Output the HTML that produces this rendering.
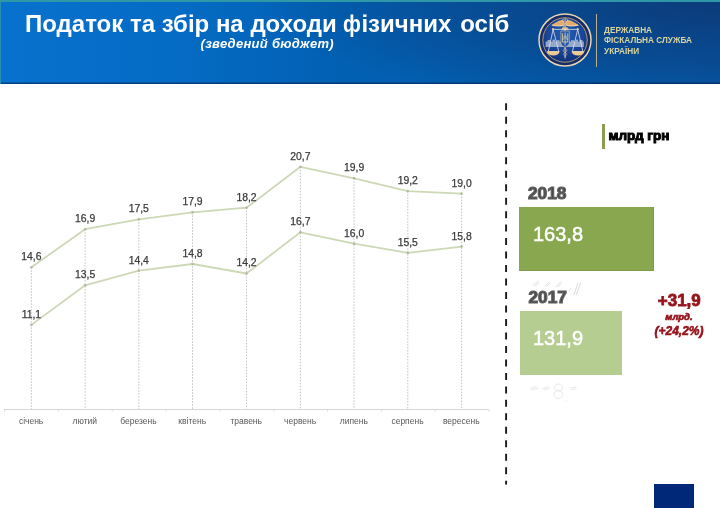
<!DOCTYPE html>
<html lang="uk">
<head>
<meta charset="utf-8">
<title>Податок та збір на доходи фізичних осіб</title>
<style>
html,body{margin:0;padding:0;}
body{width:720px;height:508px;position:relative;overflow:hidden;background:#fff;font-family:"Liberation Sans",sans-serif;}
.abs{position:absolute;white-space:nowrap;line-height:1;}
#hdr{position:absolute;left:0;top:0;width:720px;height:83.5px;
 background:
  linear-gradient(180deg, rgba(0,20,60,0) 0, rgba(0,20,60,0) 79.5px, rgba(0,25,70,0.55) 81.5px),
  radial-gradient(ellipse 460px 110px at 100% 0%, rgba(16,40,92,0.62), rgba(16,40,92,0.3) 55%, rgba(16,40,92,0) 100%),
  linear-gradient(90deg,#0772ce 0%,#056bc4 25%,#0261b4 45%,#035dae 70%,#055aaa 100%);
 border-top:2px solid #2f98a8;box-sizing:border-box;}
#hdr:before{content:"";position:absolute;left:0;top:0;width:1px;height:82px;background:#2a8fb0;}
#title{left:25px;top:12.3px;font-size:24px;font-weight:bold;color:#fff;}
#sub{left:200.5px;top:37px;font-size:13px;font-weight:bold;font-style:italic;color:#fff;letter-spacing:0.3px;}
#org{left:604px;top:24.6px;font-size:9.6px;font-weight:bold;color:#d8d3a0;line-height:10.6px;white-space:nowrap;transform-origin:0 0;transform:scaleX(0.86);}
#vline{position:absolute;left:596px;top:14px;width:1px;height:53px;background:#bfae8a;}
.dl{font-size:10.4px;color:#3a3a3a;stroke:#3a3a3a;stroke-width:0.25px;text-anchor:middle;font-family:"Liberation Sans",sans-serif;}
.ml{font-size:8.5px;fill:#595959;text-anchor:middle;font-family:"Liberation Sans",sans-serif;}
#mlrd{left:608.5px;top:128.8px;font-size:13.5px;font-weight:bold;color:#000;-webkit-text-stroke:1px #000;}
#lbar{position:absolute;left:602.3px;top:123.7px;width:3.2px;height:25px;background:#8c9c50;}
.yr{font-size:17.3px;font-weight:bold;color:#484848;-webkit-text-stroke:1.2px #606060;}
#b18{position:absolute;left:519px;top:207.3px;width:135.3px;height:64px;background:#89a74f;box-shadow:inset -1px -1px 0 rgba(0,0,0,0.07);}
#b17{position:absolute;left:519.6px;top:310.8px;width:102.4px;height:64px;background:#b6cd92;}
.bv{font-size:20px;color:#fff;-webkit-text-stroke:0.5px #fff;}
.red{color:#96141c;font-weight:bold;text-align:center;}
#corner{position:absolute;left:654px;top:484px;width:40px;height:24px;background:#002878;}
</style>
</head>
<body>
<div id="hdr"></div>
<div id="title" class="abs">Податок та збір на доходи <span style="display:inline-block;transform:scaleX(0.85);transform-origin:0 50%;margin-right:-3px">ф</span>ізичних<span style="margin-left:2.2px"> осіб</span></div>
<div id="sub" class="abs">(зведений бюджет)</div>

<svg class="abs" style="left:536.5px;top:12.4px" width="56" height="56" viewBox="0 0 56 56">
 <defs>
  <radialGradient id="lg" cx="50%" cy="35%" r="65%">
   <stop offset="0" stop-color="#2360b2"/><stop offset="0.6" stop-color="#19479a"/><stop offset="1" stop-color="#0f3079"/>
  </radialGradient>
 </defs>
 <circle cx="28" cy="28" r="26" fill="#152c68" stroke="#e6d4b2" stroke-width="1.5"/>
 <circle cx="28" cy="28" r="22.2" fill="url(#lg)" stroke="#c3a273" stroke-width="0.9"/>
 <g fill="#b9c3d9" opacity="0.8">
  <rect x="8.6" y="29.6" width="38.2" height="5.4"/>
  <rect x="10.500000" y="28" width="3" height="2"/><rect x="15.500000" y="27.600000" width="2.500000" height="2.400000"/><rect x="19.500000" y="28.200000" width="3" height="1.800000"/>
  <rect x="34" y="28.200000" width="3" height="1.800000"/><rect x="38.500000" y="27.600000" width="2.500000" height="2.400000"/><rect x="42.500000" y="28" width="3" height="2"/>
 </g>
 <path d="M10.5 30v5M12.500000 30v5M14.500000 30v5M16.500000 30v5M18.500000 30v5M20.500000 30v5M22.500000 30v5M34 30v5M36 30v5M38 30v5M40 30v5M42 30v5M44 30v5M45.800000 30v5" stroke="#8b9cc4" stroke-width="0.5" fill="none"/>
 <g fill="#eab273">
  <path d="M14.1 13.2C17.5 11.4 21 8.6 25 8C26.2 8 27 8.600000 27.300000 9.600000L27.300000 13.400000C23 14.700000 18 14.500000 14.100000 13.200000Z"/>
  <path d="M42.100000 13.200000C38.700000 11.400000 35.200000 8.600000 31.200000 8C30 8 29.200000 8.600000 28.900000 9.600000L28.900000 13.400000C33.200000 14.700000 38.200000 14.500000 42.100000 13.200000Z"/>
 </g>
 <g stroke="#f6e6c8" fill="none" stroke-linecap="round" stroke-width="0.7">
  <path d="M15.5 13.3C19 14.1 23.5 14.100000 27 13.100000M40.700000 13.300000C37.200000 14.100000 32.700000 14.100000 29.200000 13.100000"/>
 </g>
 <g stroke="#c98f58" fill="none" stroke-width="0.35">
  <path d="M18 12.600000C21 11.400000 23.500000 10.400000 26.500000 10.200000M20.500000 13.400000C22.500000 12.600000 24.500000 12 26.800000 11.800000M38.200000 12.600000C35.200000 11.400000 32.700000 10.400000 29.700000 10.200000M35.700000 13.400000C33.700000 12.600000 31.700000 12 29.400000 11.800000"/>
 </g>
 <ellipse cx="28.1" cy="16.6" rx="3.2" ry="1.5" fill="#e2b57a"/>
 <g stroke="#e4c79c" fill="none" stroke-linecap="round">
  <path d="M28.1 6.5V46" stroke-width="1"/>
  <path d="M26.2 7.2c-1.600000 1.800000 0.600000 3.400000 1.900000 4.800000M30 7.200000c1.600000 1.800000 -0.600000 3.400000 -1.900000 4.800000" stroke-width="0.9"/>
  <path d="M28.100000 13.500000c-3 1.400000 -3 2.800000 0 4.200000" stroke-width="0.700000"/>
  <path d="M28.100000 36.500000c-2.600000 1.300000 -2.600000 2.700000 0 4c2.200000 1.200000 2.200000 2.400000 0 3.600000M28.100000 36.500000c2.600000 1.300000 2.600000 2.700000 0 4c-2.200000 1.200000 -2.200000 2.400000 0 3.600000" stroke-width="0.600000"/>
 </g>
 <g stroke="#dde3ee" stroke-width="0.8" fill="none" stroke-linejoin="round">
  <path d="M15.3 17.4H41.4"/>
  <path d="M16.1 17.4L11.4 39.200000M16.100000 17.400000L21.700000 39.200000"/>
  <path d="M40.700000 17.400000L35.500000 39.200000M40.700000 17.400000L45.800000 39.200000"/>
 </g>
 <g fill="#eec88c">
  <path d="M9.9 39.3H22.700000C22.200000 42.300000 19.700000 43.500000 16.300000 43.500000C12.900000 43.500000 10.400000 42.300000 9.900000 39.300000Z"/>
  <path d="M34.500000 39.300000H47.300000C46.800000 42.300000 44.300000 43.500000 40.900000 43.500000C37.500000 43.500000 35 42.300000 34.500000 39.300000Z"/>
  <circle cx="16.100000" cy="17.200000" r="1.100000"/><circle cx="40.700000" cy="17.200000" r="1.100000"/>
 </g>
 <path d="M10.500000 39.700000H22M35.100000 39.700000H46.600000" stroke="#fbeccd" stroke-width="0.700000" fill="none"/>
 <path d="M23.900000 19H32.300000V31C32.300000 33.200000 30.200000 34.300000 28.100000 35.400000C26 34.300000 23.900000 33.200000 23.900000 31Z" fill="#2459ae" stroke="#dcc79e" stroke-width="0.600000"/>
 <path d="M25.400000 21.200000V30H30.800000V21.200000M28.100000 20.400000V33.400000M25.400000 27.600000C26.900000 27.600000 27.300000 25.800000 27.200000 23.600000M30.800000 27.600000C29.300000 27.600000 28.900000 25.800000 29 23.600000" fill="none" stroke="#ecd7a6" stroke-width="0.800000"/>
</svg>
<div id="vline"></div>
<div id="org" class="abs">ДЕРЖАВНА<br>ФІСКАЛЬНА СЛУЖБА<br>УКРАЇНИ</div>

<svg class="abs" style="left:0;top:90px" width="500" height="350" viewBox="0 90 500 350">
 <g stroke="#c2c2c2" stroke-width="1" stroke-dasharray="1.5 1.5" fill="none">
  <line x1="31.4" y1="267.3" x2="31.4" y2="409"/>
  <line x1="85.1" y1="229.2" x2="85.1" y2="409"/>
  <line x1="138.8" y1="219.3" x2="138.8" y2="409"/>
  <line x1="192.5" y1="212.3" x2="192.5" y2="409"/>
  <line x1="246.5" y1="207.7" x2="246.5" y2="409"/>
  <line x1="300.4" y1="166.8" x2="300.4" y2="409"/>
  <line x1="354.1" y1="178.3" x2="354.1" y2="409"/>
  <line x1="407.8" y1="191.1" x2="407.8" y2="409"/>
  <line x1="461.6" y1="193.6" x2="461.6" y2="409"/>
 </g>
 <line x1="4" y1="409.5" x2="489" y2="409.5" stroke="#d6d6d6" stroke-width="1"/>
 <path d="M4.5 410v2M58.4 410v2M112.2 410v2M166.1 410v2M219.9 410v2M273.8 410v2M327.6 410v2M381.4 410v2M435.3 410v2M489.2 410v2" stroke="#e2e2e2" stroke-width="1" fill="none"/>
 <polyline fill="none" stroke="#cdd8b6" stroke-width="1.8" stroke-linejoin="round" points="31.4,267.3 85.1,229.2 138.8,219.3 192.5,212.3 246.5,207.7 300.4,166.8 354.1,178.3 407.8,191.1 461.6,193.6"/>
 <polyline fill="none" stroke="#cdd8b6" stroke-width="1.8" stroke-linejoin="round" points="31.4,324.9 85.1,285.3 138.8,270.6 192.5,264.0 246.5,273.5 300.4,232.3 354.1,243.7 407.8,252.8 461.6,246.6"/>
 <g fill="#b2baa0">
  <circle cx="31.4" cy="267.3" r="1.3"/><circle cx="85.1" cy="229.2" r="1.3"/><circle cx="138.8" cy="219.3" r="1.3"/><circle cx="192.5" cy="212.3" r="1.3"/><circle cx="246.5" cy="207.7" r="1.3"/><circle cx="300.4" cy="166.8" r="1.3"/><circle cx="354.1" cy="178.3" r="1.3"/><circle cx="407.8" cy="191.1" r="1.3"/><circle cx="461.6" cy="193.6" r="1.3"/>
  <circle cx="31.4" cy="324.9" r="1.3"/><circle cx="85.1" cy="285.3" r="1.3"/><circle cx="138.8" cy="270.6" r="1.3"/><circle cx="192.5" cy="264.0" r="1.3"/><circle cx="246.5" cy="273.5" r="1.3"/><circle cx="300.4" cy="232.3" r="1.3"/><circle cx="354.1" cy="243.7" r="1.3"/><circle cx="407.8" cy="252.8" r="1.3"/><circle cx="461.6" cy="246.6" r="1.3"/>
 </g>
 <g class="dl" fill="#3a3a3a">
  <text x="31.4" y="260.2">14,6</text><text x="85.1" y="222.1">16,9</text><text x="138.8" y="212.2">17,5</text><text x="192.5" y="205.2">17,9</text><text x="246.5" y="200.6">18,2</text><text x="300.4" y="159.7">20,7</text><text x="354.1" y="171.2">19,9</text><text x="407.8" y="184.0">19,2</text><text x="461.6" y="186.5">19,0</text>
  <text x="31.4" y="317.8">11,1</text><text x="85.1" y="278.2">13,5</text><text x="138.8" y="263.5">14,4</text><text x="192.5" y="256.9">14,8</text><text x="246.5" y="266.4">14,2</text><text x="300.4" y="225.2">16,7</text><text x="354.1" y="236.6">16,0</text><text x="407.8" y="245.7">15,5</text><text x="461.6" y="239.5">15,8</text>
 </g>
 <g class="ml">
  <text x="31.1" y="423.7">січень</text><text x="84.8" y="423.7">лютий</text><text x="138.5" y="423.7">березень</text><text x="192.2" y="423.7">квітень</text><text x="246.2" y="423.7">травень</text><text x="300.1" y="423.7">червень</text><text x="353.8" y="423.7">липень</text><text x="407.5" y="423.7">серпень</text><text x="461.3" y="423.7">вересень</text>
 </g>
</svg>

<svg class="abs" style="left:500px;top:100px" width="12" height="390" viewBox="500 100 12 390">
 <line x1="506.1" y1="103.3" x2="506.1" y2="484.6" stroke="#1a1a1a" stroke-width="1.9" stroke-dasharray="7 6.48"/>
</svg>

<div id="lbar"></div>
<div id="mlrd" class="abs">млрд грн</div>

<div class="abs yr" style="left:528px;top:184.8px">2018</div>
<div id="b18"></div>
<div class="abs bv" style="left:533px;top:224.3px">163,8</div>

<div class="abs yr" style="left:528.5px;top:288.8px">2017</div>
<div id="b17"></div>
<div class="abs bv" style="left:533px;top:328.3px">131,9</div>

<div class="abs red" style="left:639.3px;top:292.3px;width:80px;font-size:17px;-webkit-text-stroke:0.8px #96141c;">+31,9</div>
<div class="abs red" style="left:639px;top:312.3px;width:80px;font-size:9.5px;font-style:italic;-webkit-text-stroke:0.7px #96141c;">млрд.</div>
<div class="abs red" style="left:639px;top:325.3px;width:80px;font-size:12px;font-style:italic;-webkit-text-stroke:0.6px #96141c;">(+24,2%)</div>

<svg class="abs" style="left:525px;top:276px" width="70" height="130" viewBox="525 276 70 130">
 <g stroke="#d9d9d9" stroke-width="0.8" fill="none" stroke-linecap="round">
  <path d="M533.3 284.7L538.1 281.3M534.5 286L538.8 283"/>
  <path d="M544.9 286.2L549.3 281.8M547 286.5L550 283.200000"/>
  <path d="M556 286.7L560.5 281.8M558 287L561.300000 283.200000"/>
  <path d="M574 294.5L578 283M576.5 294.5L580.5 283" stroke="#cfcfcf"/>
  <path d="M569 291l1.5 -2.500000"/>
 </g>
 <g stroke="#e0e0e0" stroke-width="0.8" fill="none" stroke-linecap="round">
  <path d="M531 388.5L536 386.5M532 390L538 388"/>
  <path d="M543 388.500000L548 386.500000M544 390L550 388"/>
  <ellipse cx="558.5" cy="387.5" rx="4" ry="3.5" stroke-dasharray="1.5 1"/>
  <ellipse cx="558.500000" cy="394.500000" rx="4.500000" ry="4" stroke-dasharray="1.500000 1"/>
  <path d="M571 388L576 387M571.500000 389.800000L576 388.800000"/>
  <path d="M566 400.500000l0.800000 1"/>
 </g>
</svg>
<div id="corner"></div>
</body>
</html>
